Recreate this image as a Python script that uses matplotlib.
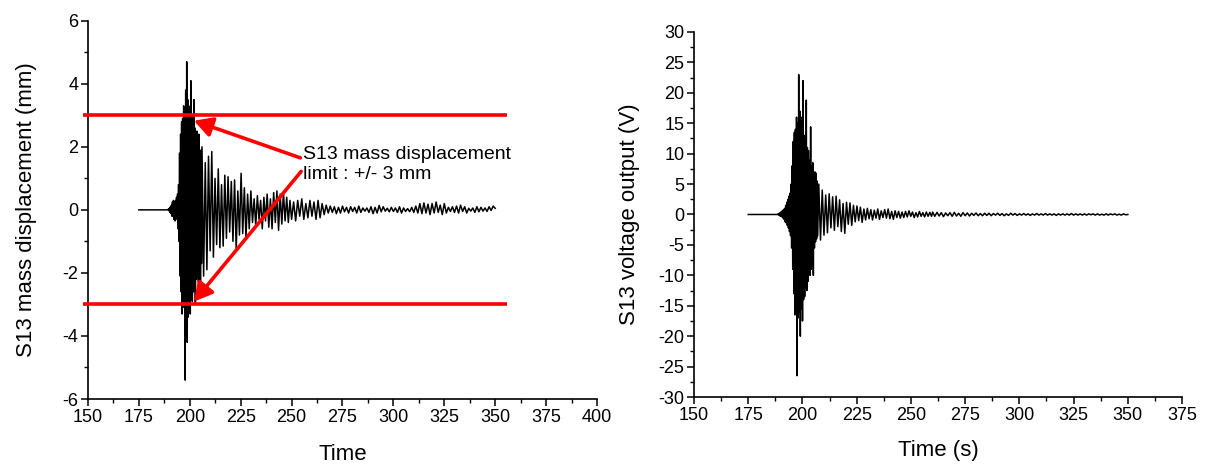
import numpy as np
import matplotlib
matplotlib.use("Agg")
import matplotlib.pyplot as plt
from matplotlib.ticker import MultipleLocator

plt.rcParams['font.family'] = ['Liberation Sans', 'DejaVu Sans']
plt.rcParams['axes.unicode_minus'] = False

# --- S13 mass displacement (mm) ---
# each segment: start time (s), sample step (s), values
t_disp_pre = [175.0, 189.0]
disp_pre = [0.0, 0.0]

disp_onset = [0.02, -0.03, 0.05, -0.08, 0.1, -0.12, 0.15, -0.2, 0.25, -0.2,
              0.3, -0.3, 0.25, -0.35, 0.3, -0.25, 0.4, -0.3, 0.5, -0.6,
              0.8, -1.0]                                  # from 189.5 s, 0.25 s
disp_burst = [1.8, -2.1, 2.4, -2.6, 2.8, -3.3, 2.9, -2.8, 3.3, -3.1,
              3.0, -5.4, 3.8, -3.6, 4.7, -4.2, 3.5, -3.4, 3.3, -3.0,
              3.0, -3.3, 4.1, -2.8, 3.0, -2.9, 2.8, -2.6, 3.5, -2.5,
              2.6, -3.0, 2.4, -2.2, 2.5, -2.0, 2.1, -2.3, 2.4, -1.9,
              1.8, -2.5, 1.9, -1.7]                       # from 195.0 s, 0.25 s
disp_decay = [2.0, -2.1, 1.5, -1.9, 1.7, -1.3, 1.85, -1.5, 1.0, -1.1,
              1.3, -1.2, 0.8, -1.15, 1.1, -0.9, 1.05, -0.7, 0.9, -1.0,
              0.95, -1.27, 0.6, -0.8, 1.16, -0.75, 0.7, -0.9, 0.5, -0.6,
              0.6, -0.4, 0.35, -0.5, 0.45, -0.3, 0.3, -0.6, 0.4, -0.35,
              0.5, -0.55, 0.35, -0.6, 0.55, -0.4, 0.6, -0.65, 0.5, -0.45,
              0.55, -0.35, 0.4, -0.4, 0.3]                # from 206.0 s, 0.8 s
disp_tail = [-0.3, 0.25, -0.35, 0.3, -0.2, 0.35, -0.3, 0.2, -0.25, 0.3,
             -0.2, 0.25, -0.3, 0.3, -0.25, 0.2, -0.15, 0.15, -0.1, 0.12,
             -0.08, 0.1, -0.12, 0.08, -0.1, 0.12, -0.06, 0.08, -0.1, 0.1,
             -0.05, 0.08, -0.1, 0.12, -0.08, 0.06, -0.04, 0.06, -0.08, 0.1,
             -0.12, 0.08, -0.1, 0.14, -0.06, 0.1, -0.04, 0.05, -0.06, 0.08,
             -0.05, 0.06, -0.08, 0.1, -0.1, 0.06, -0.05, 0.04, -0.06, 0.08,
             -0.08, 0.12, -0.1, 0.2, -0.12, 0.22, -0.1, 0.18, -0.15, 0.2,
             -0.1, 0.25, -0.08, 0.15, -0.15, 0.2, -0.1, 0.08, -0.05, 0.1,
             -0.08, 0.12, -0.1, 0.15, -0.05, 0.1, -0.1, 0.05, -0.04, 0.06,
             -0.08, 0.1, -0.06, 0.08, -0.04, 0.06, -0.05, 0.1, -0.02, 0.12,
             0.05]                                        # from 250 s, 1 s

# --- S13 voltage output (V) ---
t_volt_pre = [175.0, 188.5]
volt_pre = [0.0, 0.0]

volt_onset = [0.1, -0.1, 0.2, -0.2, 0.3, -0.3, 0.5, -0.4, 0.6, -0.6,
              0.8, -0.8, 1.0, -1.2, 1.5, -1.4, 2.0, -1.8]  # from 188.75 s, 0.25 s
volt_burst = [2.5, -2.2, 3.0, -2.8, 3.5, -3.5, 5.0, -5.5, 8.0, -9.0,
              12.0, -13.0, 13.5, -16.5, 14.0, -15.0, 16.0, -26.5, 15.0, -17.0,
              23.0, -16.0, 17.0, -20.0, 16.0, -15.5, 15.0, -17.5, 22.0, -14.0,
              13.0, -13.5, 12.0, -12.0, 18.8, -12.5, 11.0, -11.0, 10.5, -9.5,
              9.0, -10.0, 14.4, -9.0, 8.0, -8.5, 8.5, -10.0, 6.5, -5.5,
              7.0, -4.5, 6.8, -4.0, 5.5, -3.5]            # from 193.25 s, 0.25 s
volt_decay = [5.0, -4.2, 4.0, -3.4, 3.2, -3.0, 3.4, -2.2, 2.9, -2.6,
              3.0, -2.0, 2.4, -2.8, 1.8, -3.1, 2.0, -1.6, 1.9, -1.8,
              1.5, -1.2, 1.4, -1.0, 1.2, -1.3, 0.9, -0.9, 1.0, -0.7,
              0.8, -0.9, 0.7, -0.6, 0.9, -0.8, 0.6, -0.5, 0.8, -0.6,
              0.9, -0.7, 0.5, -0.8, 0.6, -0.5, 0.5, -0.6, 0.4, -0.5,
              0.5, -0.4, 0.6, -0.3, 0.4, -0.5, 0.3, -0.4, 0.5, -0.3,
              0.3, -0.4, 0.4, -0.3, 0.35, -0.3]           # from 207.5 s, 0.8 s
volt_tail = [0.4, -0.3, 0.35, -0.25, 0.3, -0.35, 0.25, -0.2, 0.3, -0.3,
             0.35, -0.25, 0.2, -0.3, 0.3, -0.2, 0.25, -0.25, 0.2, -0.15,
             0.25, -0.2, 0.15, -0.2, 0.2, -0.15, 0.2, -0.2, 0.15, -0.1,
             0.2, -0.15, 0.15, -0.2, 0.1, -0.15, 0.2, -0.1, 0.15, -0.15,
             0.1, -0.1, 0.15, -0.1, 0.1, -0.15, 0.1, -0.1, 0.15, -0.1,
             0.1, -0.1, 0.15, -0.1, 0.1, -0.1, 0.1, -0.15, 0.1, -0.1,
             0.1, -0.1, 0.1, -0.1, 0.15, -0.1, 0.1, -0.1, 0.1, -0.1,
             0.1, -0.1, 0.1, -0.05, 0.1, -0.1, 0.1, -0.1, 0.05, -0.1,
             0.1, -0.1, 0.1, -0.05, 0.1, -0.1, 0.05, -0.1, 0.1, -0.05,
             0.0]                                         # from 260 s, 1 s

limit_mm = 3.0


def build(pre_t, pre_v, segments):
    """Join the segments into one time / value pair."""
    t = list(pre_t)
    v = list(pre_v)
    for start, step, vals in segments:
        t.extend(start + step * np.arange(len(vals)))
        v.extend(vals)
    return np.array(t), np.array(v)


t_disp, disp = build(t_disp_pre, disp_pre, [(189.5, 0.25, disp_onset),
                                            (195.0, 0.25, disp_burst),
                                            (206.0, 0.8, disp_decay),
                                            (250.0, 1.0, disp_tail)])
t_volt, volt = build(t_volt_pre, volt_pre, [(188.75, 0.25, volt_onset),
                                            (193.25, 0.25, volt_burst),
                                            (207.5, 0.8, volt_decay),
                                            (260.0, 1.0, volt_tail)])


def style_axes(ax):
    for side in ("top", "right"):
        ax.spines[side].set_visible(False)
    for side in ("left", "bottom"):
        ax.spines[side].set_linewidth(1.2)
    ax.tick_params(which="major", direction="out", length=5, width=1.1,
                   labelsize=13, pad=2)
    ax.tick_params(which="minor", direction="out", length=2.8, width=1.0)


fig = plt.figure(figsize=(12.1, 4.68), dpi=100)

# left panel: displacement
ax1 = fig.add_axes([0.0727, 0.1474, 0.4207, 0.8083])
ax1.plot(t_disp, disp, color="black", lw=1.1)
ax1.set_xlim(150, 400)
ax1.set_ylim(-6, 6)
ax1.xaxis.set_major_locator(MultipleLocator(25))
ax1.xaxis.set_minor_locator(MultipleLocator(12.5))
ax1.yaxis.set_major_locator(MultipleLocator(2))
ax1.yaxis.set_minor_locator(MultipleLocator(1))
style_axes(ax1)
ax1.set_xlabel("Time", fontsize=16)
ax1.set_ylabel("S13 mass displacement (mm)", fontsize=16)
ax1.xaxis.set_label_coords(0.5, -0.118)
ax1.yaxis.set_label_coords(-0.1, 0.5)

ax1.hlines([limit_mm, -limit_mm], 147.8, 356.0, color="red", lw=2.6,
           clip_on=False, zorder=3)
ax1.text(255.6, 1.43, "S13 mass displacement\nlimit : +/- 3 mm",
         fontsize=14, ha="left", va="center", linespacing=1.2)
arrow = dict(arrowstyle="-|>,head_length=0.55,head_width=0.3",
             color="red", lw=2.6, mutation_scale=20, shrinkA=0, shrinkB=0)
ax1.annotate("", xy=(202.0, 2.83), xytext=(254.3, 1.65), arrowprops=arrow)
ax1.annotate("", xy=(202.0, -2.91), xytext=(254.7, 1.22), arrowprops=arrow)

# right panel: voltage
ax2 = fig.add_axes([0.5736, 0.1517, 0.4033, 0.78])
ax2.plot(t_volt, volt, color="black", lw=1.1)
ax2.set_xlim(150, 375)
ax2.set_ylim(-30, 30)
ax2.xaxis.set_major_locator(MultipleLocator(25))
ax2.xaxis.set_minor_locator(MultipleLocator(12.5))
ax2.yaxis.set_major_locator(MultipleLocator(5))
ax2.yaxis.set_minor_locator(MultipleLocator(2.5))
style_axes(ax2)
ax2.set_xlabel("Time (s)", fontsize=16)
ax2.set_ylabel("S13 voltage output (V)", fontsize=16)
ax2.xaxis.set_label_coords(0.5, -0.118)
ax2.yaxis.set_label_coords(-0.11, 0.5)

fig.savefig("out.png", dpi=100)
